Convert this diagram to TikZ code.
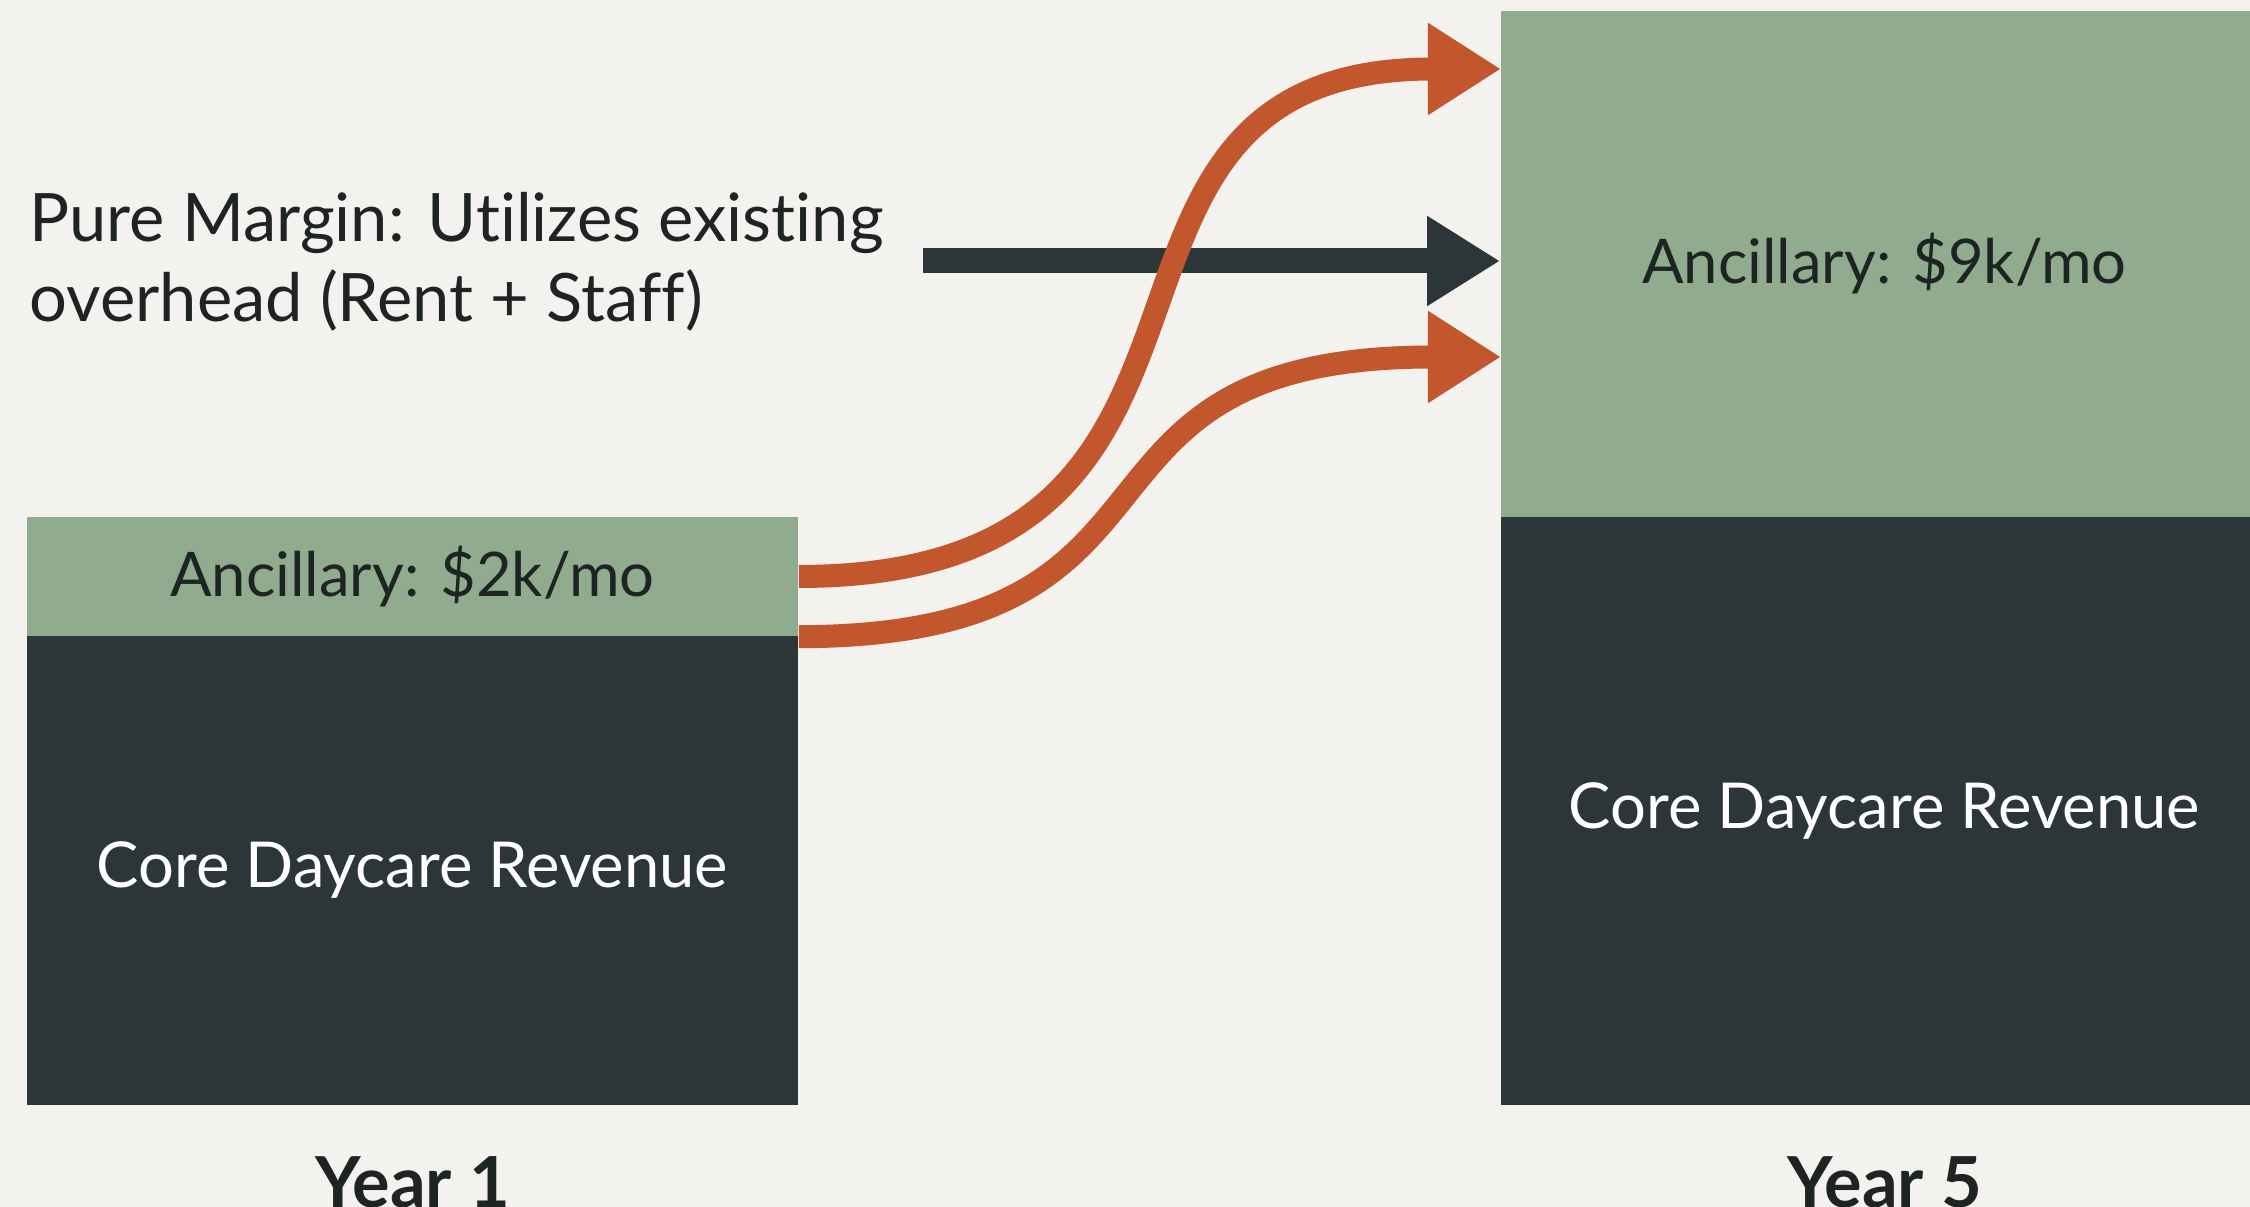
\documentclass[tikz,border=0pt]{standalone}
\usepackage{fontspec}
\setmainfont{Lato}[Ligatures=NoCommon]
\usetikzlibrary{arrows.meta, positioning}
\definecolor{paper}{HTML}{F3F2EE}
\definecolor{sage}{HTML}{90AB8D}
\definecolor{slate}{HTML}{2C3538}
\definecolor{rust}{HTML}{C2572E}
\definecolor{ink}{HTML}{1E2324}

\begin{document}
\begin{tikzpicture}[
    x=0.01cm, y=-0.01cm,
    ancbox/.style={rectangle, fill=sage, inner sep=0pt, text=ink,
                   font=\fontsize{17.5}{21}\selectfont},
    corebox/.style={rectangle, fill=slate, inner sep=0pt, text=white,
                    font=\fontsize{18}{22}\selectfont},
    yearlbl/.style={font=\fontsize{20}{24}\selectfont\bfseries, text=ink},
    flow/.style={-{Triangle[length=7.3mm, width=8.7mm]}, line width=2.3mm, rust},
    margarr/.style={-{Triangle[length=7.3mm, width=8.5mm]}, line width=2.5mm, slate},
]
  % page
  \fill[paper] (0,0) rectangle (2250,1207);
  \useasboundingbox (0,0) rectangle (2250,1207);

  % Year 1 stack
  \node[ancbox, minimum width=7.71cm, minimum height=1.19cm] (anc1) at (412.5, 576.5) {Ancillary: \$2k/mo};
  \node[corebox, minimum width=7.71cm, minimum height=4.69cm] (core1) at (412.5, 870.5) {Core Daycare Revenue};
  \node[yearlbl] (yr1) at (412.5, 1182) {Year 1};

  % Year 5 stack (runs off the right edge)
  \node[ancbox, minimum width=7.67cm, minimum height=5.06cm] (anc5) at (1884.5, 264) {Ancillary: \$9k/mo};
  \node[corebox, minimum width=7.67cm, minimum height=5.88cm] (core5) at (1884.5, 811) {Core Daycare Revenue};
  \node[yearlbl] (yr5) at (1884.5, 1182) {Year 5};

  % note
  \node[anchor=west, align=left, inner sep=0pt, text=ink,
        font=\fontsize{19}{22.8}\selectfont] (margin) at (29, 262)
    {Pure Margin: Utilizes existing\\overhead (Rent + Staff)};

  \coordinate (pm)  at (923, 261);
  \coordinate (in1) at (1501, 69);
  \coordinate (in2) at (1501, 357);

  % flows
  \draw[margarr] (pm) -- (pm -| anc5.west);
  \draw[flow] (anc1.east) .. controls (1298, 576) and (1029, 69) .. (in1);
  \draw[flow] (anc1.south east) .. controls (1220, 636) and (1035, 357) .. (in2);

\end{tikzpicture}
\end{document}
